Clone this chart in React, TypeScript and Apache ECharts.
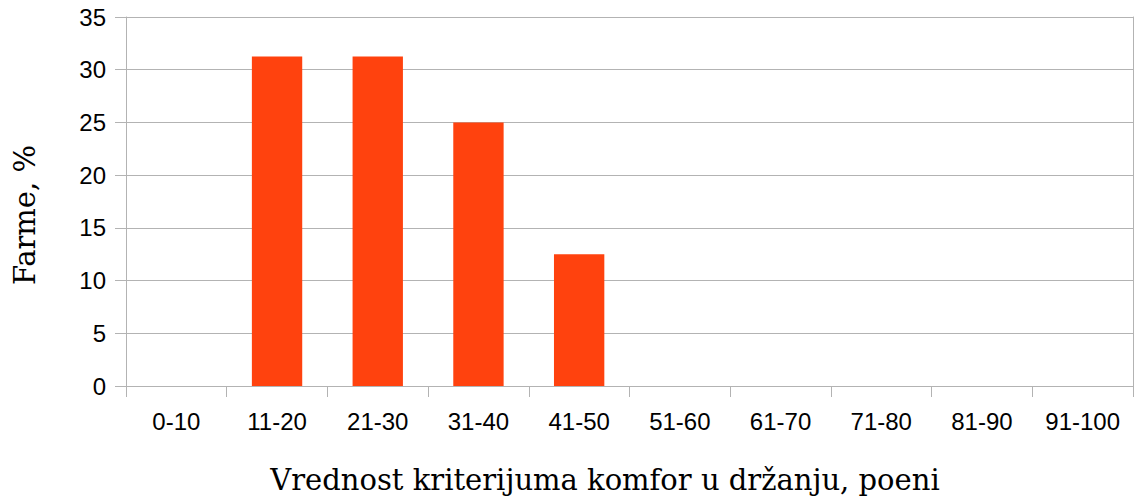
import React, { useEffect, useRef } from "react";
import * as echarts from "echarts";

const categories = ["0-10", "11-20", "21-30", "31-40", "41-50", "51-60", "61-70", "71-80", "81-90", "91-100"];
const values = [0, 31.25, 31.25, 25, 12.5, 0, 0, 0, 0, 0];
const yTitle = "Farme, %";
const xTitle = "Vrednost kriterijuma komfor u držanju, poeni";

export default function App() {
  const ref = useRef<HTMLDivElement>(null);
  useEffect(() => {
    const chart = echarts.init(ref.current!, null, { renderer: "svg" });
    const grid = "#b3b3b3";
    chart.setOption({
      animation: false,
      grid: { left: 126, right: 2, top: 17, bottom: 116 },
      xAxis: {
        type: "category",
        data: categories,
        axisLine: { show: true, lineStyle: { color: grid, width: 1 } },
        axisTick: { show: true, length: 11, lineStyle: { color: grid } },
        axisLabel: { color: "#000", fontSize: 24, fontFamily: "Liberation Sans", margin: 23 },
        splitLine: { show: false },
      },
      yAxis: [
        {
          type: "value",
          min: 0,
          max: 35,
          interval: 5,
          axisLine: { show: true, lineStyle: { color: grid, width: 1 } },
          axisTick: { show: true, length: 11, lineStyle: { color: grid } },
          axisLabel: { color: "#000", fontSize: 24, fontFamily: "Liberation Sans", margin: 20 },
          splitLine: { show: true, lineStyle: { color: grid, width: 1 } },
        },
        {
          type: "value",
          min: 0,
          max: 35,
          interval: 5,
          position: "right",
          axisLine: { show: true, lineStyle: { color: grid, width: 1 } },
          axisTick: { show: false },
          axisLabel: { show: false },
          splitLine: { show: false },
        },
      ],
      series: [
        {
          type: "bar",
          data: values,
          barWidth: "50%",
          itemStyle: { color: "#ff420e" },
          yAxisIndex: 0,
        },
      ],
      graphic: [
        {
          type: "text",
          x: 25,
          y: 215,
          rotation: Math.PI / 2,
          style: {
            text: yTitle,
            fontSize: 29,
            fontFamily: "DejaVu Serif",
            fill: "#000",
            align: "center",
            verticalAlign: "middle",
          },
        },
        {
          type: "text",
          x: 605,
          y: 480,
          style: {
            text: xTitle,
            fontSize: 29,
            fontFamily: "DejaVu Serif",
            fill: "#000",
            align: "center",
            verticalAlign: "middle",
          },
        },
      ],
    });
    return () => chart.dispose();
  }, []);
  return <div ref={ref} style={{ width: 1135, height: 502, position: "absolute", left: 0, top: 0 }} />;
}
